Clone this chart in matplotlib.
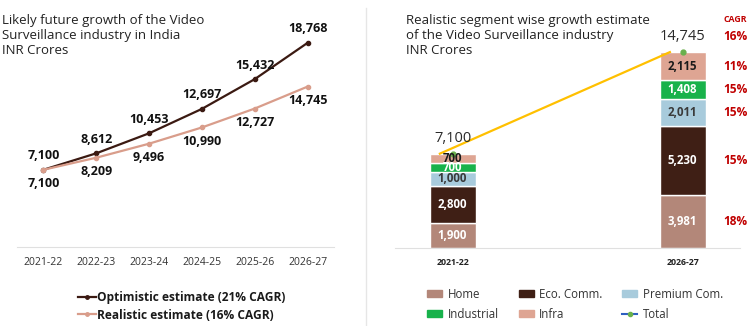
import matplotlib
matplotlib.use('Agg')
import matplotlib.pyplot as plt
import numpy as np
from matplotlib.lines import Line2D
from matplotlib.patches import Patch

plt.rcParams['font.family'] = ['Open Sans', 'DejaVu Sans']

years = ['2021-22', '2022-23', '2023-24', '2024-25', '2025-26', '2026-27']
optimistic = [7100, 8612, 10453, 12697, 15432, 18768]
realistic = [7100, 8209, 9496, 10990, 12727, 14745]

bar_years = ['2021-22', '2026-27']
segments = ['Home', 'Eco. Comm.', 'Premium Com.', 'Industrial', 'Infra']
seg_values = {
    'Home': [1900, 3981],
    'Eco. Comm.': [2800, 5230],
    'Premium Com.': [1000, 2011],
    'Industrial': [700, 1408],
    'Infra': [700, 2115],
}
seg_cagr = ['18%', '15%', '15%', '15%', '11%']
total_cagr = '16%'

seg_colors = {
    'Home': '#b38779',
    'Eco. Comm.': '#3f1f15',
    'Premium Com.': '#a8cbdc',
    'Industrial': '#18b24b',
    'Infra': '#dea593',
}
seg_text = {
    'Home': 'white',
    'Eco. Comm.': 'white',
    'Premium Com.': '#3a3a3a',
    'Industrial': 'white',
    'Infra': '#1a1a1a',
}

opt_color = '#3b1a12'
real_color = '#d99d8b'
red = '#c00000'

fig = plt.figure(figsize=(7.5, 3.26), dpi=100)

# left: line chart
ax1 = fig.add_axes([0.0227, 0.2423, 0.4227, 0.6675])
x = np.arange(len(years))
ax1.plot(x, optimistic, color=opt_color, lw=1.6, marker='o', ms=3)
ax1.plot(x, realistic, color=real_color, lw=1.6, marker='o', ms=3)
for i in range(len(years)):
    ax1.annotate(f'{optimistic[i]:,}', (x[i], optimistic[i]), xytext=(0, 10),
                 textcoords='offset points', ha='center', va='center',
                 fontsize=9, fontweight='bold', color='#111111')
    ax1.annotate(f'{realistic[i]:,}', (x[i], realistic[i]), xytext=(0, -10),
                 textcoords='offset points', ha='center', va='center',
                 fontsize=9, fontweight='bold', color='#111111')
ax1.set_xlim(-0.5, 5.5)
ax1.set_ylim(0, 20000)
ax1.set_xticks(x)
ax1.set_xticklabels(years, fontsize=7.5, color='#333333')
ax1.set_yticks([])
ax1.tick_params(axis='x', length=0, pad=7)
for s in ['top', 'right', 'left']:
    ax1.spines[s].set_visible(False)
ax1.spines['bottom'].set_color('#e0e0e0')
ax1.patch.set_alpha(0)

fig.text(0.003, 0.958, 'Likely future growth of the Video\nSurveillance industry in India\nINR Crores',
         fontsize=9.5, va='top', ha='left', color='#222222', linespacing=1.2)

h_opt = Line2D([], [], color=opt_color, lw=1.6, marker='o', ms=2.5)
h_real = Line2D([], [], color=real_color, lw=1.6, marker='o', ms=2.5)
fig.legend([h_opt, h_real], ['Optimistic estimate (21% CAGR)', 'Realistic estimate (16% CAGR)'],
           loc='center', bbox_to_anchor=(0.242, 0.06), frameon=False, ncol=1,
           prop={'size': 8.6, 'weight': 'bold'}, handlelength=1.5, handletextpad=0.05,
           labelspacing=0.35, borderpad=0, labelcolor='#1a1a1a')

# separator
fig.add_artist(Line2D([366 / 750, 366 / 750], [1 - 8 / 326, 1 - 325 / 326],
                      color='#e6e6e6', lw=1))

# right: stacked bars
ax2 = fig.add_axes([0.5267, 0.2393, 0.46, 0.652])
bx = np.arange(len(bar_years))
width = 0.2
bottom = np.zeros(len(bar_years))
centers = {}
for seg in segments:
    vals = np.array(seg_values[seg])
    ax2.bar(bx, vals, width, bottom=bottom, color=seg_colors[seg],
            edgecolor='white', linewidth=1)
    centers[seg] = bottom + vals / 2
    for i in range(len(bar_years)):
        ax2.text(bx[i], bottom[i] + vals[i] / 2, f'{vals[i]:,}', ha='center', va='center',
                 fontsize=8.3, fontweight='bold', color=seg_text[seg], linespacing=1)
    bottom = bottom + vals
totals = bottom

ax2.plot(bx - 0.055, totals, color='#ffc000', lw=1.6)
ax2.plot(bx, totals, ls='none', marker='o', ms=3.5, color='#6ab04c')
for i in range(len(bar_years)):
    ax2.annotate(f'{int(totals[i]):,}', (bx[i], totals[i]), xytext=(0, 11),
                 textcoords='offset points', ha='center', va='center',
                 fontsize=10.5, color='#2a2a2a')

# CAGR column
cx = 1.23
ax2.annotate(total_cagr, (cx, totals[1]), xytext=(0, 11.5), textcoords='offset points',
             ha='center', va='center', fontsize=8.6, fontweight='bold', color=red)
ax2.annotate('CAGR', (cx, totals[1]), xytext=(0, 23.5), textcoords='offset points',
             ha='center', va='center', fontsize=6.3, fontweight='bold', color=red)
for seg, c in zip(segments, seg_cagr):
    ax2.text(cx, centers[seg][1], c, ha='center', va='center', fontsize=8.6,
             fontweight='bold', color=red)

ax2.set_xlim(-0.25, 1.25)
ax2.set_ylim(0, 16000)
ax2.set_xticks(bx)
ax2.set_xticklabels(bar_years, fontsize=6.3, fontweight='bold', color='#222222')
ax2.set_yticks([])
ax2.tick_params(axis='x', length=0, pad=7)
for s in ['top', 'right', 'left']:
    ax2.spines[s].set_visible(False)
ax2.spines['bottom'].set_color('#e0e0e0')
ax2.patch.set_alpha(0)

fig.text(0.541, 0.958, 'Realistic segment wise growth estimate\nof the Video Surveillance industry\nINR Crores',
         fontsize=9.5, va='top', ha='left', color='#222222', linespacing=1.2)

handles = [Patch(color=seg_colors[s]) for s in segments]
handles.append(Line2D([], [], color='#2e5fc1', lw=1.5, marker='o', ms=3,
                      markerfacecolor='#6ab04c', markeredgecolor='#6ab04c'))
labels = segments + ['Total']
# reorder so two rows read left to right
order = [0, 3, 1, 4, 2, 5]
fig.legend([handles[i] for i in order], [labels[i] for i in order],
           loc='center left', bbox_to_anchor=(0.562, 0.067), frameon=False, ncol=3,
           prop={'size': 8.3}, handlelength=1.3, handleheight=0.55,
           handletextpad=0.45, columnspacing=1.75, labelspacing=0.6, borderpad=0,
           labelcolor='#333333')

fig.savefig('out.png', dpi=100, facecolor='white')
